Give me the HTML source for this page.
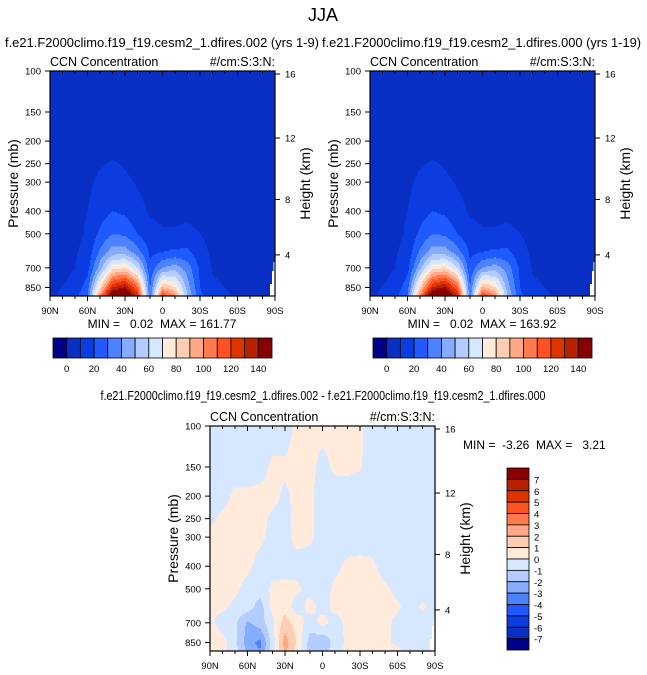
<!DOCTYPE html>
<html><head><meta charset="utf-8">
<style>
body{margin:0;background:#fff;}
svg{display:block;font-family:"Liberation Sans",Arial,sans-serif;}
.pre{white-space:pre;}
</style></head>
<body>
<svg id="chart" width="647" height="675" viewBox="0 0 647 675" xmlns="http://www.w3.org/2000/svg">
<text x="323" y="21" font-size="18" text-anchor="middle">JJA</text>
<text x="5" y="47" font-size="12.5" textLength="314" lengthAdjust="spacingAndGlyphs">f.e21.F2000climo.f19_f19.cesm2_1.dfires.002 (yrs 1-9)</text>
<text x="322" y="47" font-size="12.5" textLength="319" lengthAdjust="spacingAndGlyphs">f.e21.F2000climo.f19_f19.cesm2_1.dfires.000 (yrs 1-19)</text>
<text x="323" y="400" font-size="12.5" text-anchor="middle" textLength="445" lengthAdjust="spacingAndGlyphs">f.e21.F2000climo.f19_f19.cesm2_1.dfires.002 - f.e21.F2000climo.f19_f19.cesm2_1.dfires.000</text>
</svg>
<script>
// ---- data ----
const lats = [90,80,70,60,50,40,30,20,10,0,-10,-20,-30,-40,-50,-60,-70,-80,-90];
const levels = [100,150,200,250,300,400,500,600,700,850,925];
const ccnA = [
 [5,5,5,5,5,5,5,5,5,5,5,5,5,5,5,5,5,5,5],
 [5,5,5,5,5,5,5,5,5,5,5,5,5,5,5,5,5,5,5],
 [6,6,6,6,6,6,6,6,6,6,6,6,6,6,6,6,6,6,6],
 [6,6,6,7,9,11,9,7,6,6,6,6,6,6,6,6,6,6,6],
 [6,6,7,8,12,14,12,9,7,6,6,6,6,6,6,6,6,6,6],
 [6,7,8,10,15,20,18,13,9,8,8,8,7,6,6,6,6,6,6],
 [6,7,8,11,22,30,28,20,13,11,11,12,10,7,6,6,6,6,6],
 [7,8,9,13,32,45,45,35,18,20,22,22,14,8,7,6,6,6,6],
 [7,8,10,16,45,75,80,60,22,40,45,35,18,9,7,6,6,6,6],
 [8,10,13,25,80,130,140,110,28,90,80,45,20,12,10,8,6,6,6],
 [8,12,16,30,100,160,160,130,30,120,100,50,22,14,11,9,7,6,6]];
const ccnB = [
 [5,5,5,5,5,5,5,5,5,5,5,5,5,5,5,5,5,5,5],
 [5,5,5,5,5,5,5,5,5,5,5,5,5,5,5,5,5,5,5],
 [6,6,6,6,6,6,6,6,6,6,6,6,6,6,6,6,6,6,6],
 [6,6,6,7,9,11,9,7,6,6,6,6,6,6,6,6,6,6,6],
 [6,6,7,8,12,14,12,9,7,6,6,6,6,6,6,6,6,6,6],
 [6,7,8,10,15,20,18,13,9,8,8,8,7,6,6,6,6,6,6],
 [6,7,8,11,22,30,28,20,13,11,11,12,10,7,6,6,6,6,6],
 [7,8,9,13,32,45,45,35,18,20,22,22,14,8,7,6,6,6,6],
 [7,8,10,16,46,76,80,60,22,40,45,35,18,9,7,6,6,6,6],
 [8,10,13,26,82,131,141,111,29,91,81,45,20,12,10,8,6,6,6],
 [8,12,16,31,102,162,163,131,31,121,101,50,22,14,11,9,7,6,6]];
const ccnDiff = [
 [-.5,-.5,-.5,-.5,-.5,-.5,-.5,.3,.3,.3,.3,.3,.2,-.5,-.5,-.5,-.5,-.5,-.5],
 [-.5,-.5,-.5,-.5,-.4,.2,.2,.3,.3,-.3,.2,.2,.1,-.5,-.5,-.5,-.5,-.5,-.5],
 [-.5,-.3,.2,.2,.3,.3,-.2,.3,.2,-.5,-.5,-.5,-.5,-.5,-.5,-.5,-.5,-.5,-.5],
 [-.2,.2,.3,.3,.3,-.2,-.3,.3,.2,-.5,-.5,-.5,-.5,-.5,-.5,-.5,-.5,-.5,-.5],
 [.3,.3,.3,.3,.2,-.3,-.3,.3,.2,-.5,-.5,-.5,-.5,-.5,-.5,-.5,-.5,-.5,-.5],
 [.3,.3,.3,.2,-.3,-.4,-.4,-.4,-.5,-.4,-.2,.2,.3,.2,-.4,-.5,-.5,-.5,-.5],
 [.3,.3,.2,-.3,-.5,.2,.3,.2,-.4,-.4,.2,.3,.3,.3,.2,-.3,-.5,-.5,-.5],
 [.3,.2,-.2,-.5,-1.5,.3,.5,-.5,.4,-.4,.3,.3,.3,.3,.3,.2,-.5,.2,-.5],
 [.2,-.5,-.8,-2.2,-1.5,-.2,1.5,.5,-.5,.4,-.5,.3,.3,.3,.3,-.3,-.5,-.5,-.5],
 [.8,.4,-.7,-2.5,-3.3,-.5,2.5,.8,-1.5,-2,-.5,.2,.3,.3,.3,-.3,-.4,-.5,-.5],
 [.5,.3,-.6,-2.2,-3,-.5,2.2,.6,-1.5,-1.5,-.4,.3,.3,.3,.3,.3,-.3,-.5,-.5]];
const xTickLabels = ["90N","60N","30N","0","30S","60S","90S"];
const xTickLats = [90,60,30,0,-30,-60,-90];
const pTicks = [100,150,200,250,300,400,500,700,850];
const hTicks = [16,12,8,4];
const hTickP = [103,194,356,616];
const cbLabelsA = ["0","20","40","60","80","100","120","140"];
const cbLabelsD = ["7","6","5","4","3","2","1","0","-1","-2","-3","-4","-5","-6","-7"];
const statsA = "MIN =   0.02  MAX = 161.77";
const statsB = "MIN =   0.02  MAX = 163.92";
const statsD = "MIN =  -3.26  MAX =   3.21";

const colors = ["#00008a","#0a2fc4","#0a3ce0","#1e5aff","#4a82ff","#86acff","#b4ccff","#d6e8ff","#ffeadc","#ffccb4","#ffa884","#ff7a4c","#ff5222","#e03400","#b82000","#880000"];
const NS="http://www.w3.org/2000/svg";
const svg=document.getElementById('chart');
function mk(tag,attrs,parent){const e=document.createElementNS(NS,tag);for(const k in attrs)e.setAttribute(k,attrs[k]);(parent||svg).appendChild(e);return e;}

function interp(grid,latv,p){
  let fi=(90-latv)/10; fi=Math.max(0,Math.min(18,fi));
  const lp=Math.log(p);let j=0;
  while(j<levels.length-2&&Math.log(levels[j+1])<lp)j++;
  let t=(lp-Math.log(levels[j]))/(Math.log(levels[j+1])-Math.log(levels[j]));t=Math.max(0,Math.min(1,t));
  const i0=Math.min(17,Math.floor(fi)),s=fi-i0;
  const a=grid[j][i0]*(1-s)+grid[j][i0+1]*s, b=grid[j+1][i0]*(1-s)+grid[j+1][i0+1]*s;
  return a*(1-t)+b*t;
}

function panel(name,X,Y,grid,binFn){
  const W=225,H=225;
  const xS=l=>X+(90-l)/180*W;
  const yS=p=>Y+Math.log(p/100)/Math.log(9.25)*H;
  const g=mk('g',{});
  
  
  const cg=mk('g',{},g);
  
  
  const dy=1.5;
  for(let y=Y;y<Y+H;y+=dy){
    const p=100*Math.exp((y+dy/2-Y)/H*Math.log(9.25));
    let start=X,cur=-1;
    for(let x=X;x<=X+W;x+=1){
      let c=-1;
      if(x<X+W){const l=90-(x+0.5-X)/W*180;c=binFn(interp(grid,l,p));}
      if(c!==cur){
        if(cur>=0){const r=mk('rect',{x:start,y:y,width:x-start+0.3,height:dy+0.3,fill:colors[cur]},cg);
          
          }
        cur=c;start=x;
      }
    }
  }
  const m=mk('path',{d:`M${X+W-5} ${Y+H} L${X+W-5} ${Y+H-12} L${X+W-3} ${Y+H-12} L${X+W-3} ${Y+H-25} L${X+W-1.5} ${Y+H-25} L${X+W-1.5} ${Y+H-34} L${X+W} ${Y+H-34} L${X+W} ${Y+H} Z`,fill:'#fff'},g);
  
  
  const fr=mk('rect',{x:X,y:Y,width:W,height:H,fill:'none',stroke:'#000','stroke-width':1.2},g);
  
  
  for(let l=90;l>=-90;l-=10){
    const x=xS(l),maj=l%30===0,len=maj?5:3;
    mk('line',{x1:x,y1:Y,x2:x,y2:Y+len,stroke:'#000','stroke-width':1},g);
    mk('line',{x1:x,y1:Y+H,x2:x,y2:Y+H+len,stroke:'#000','stroke-width':1},g);
  }
  xTickLabels.forEach((t,i)=>{const e=mk('text',{x:xS(xTickLats[i]),y:Y+H+18,'font-size':9.5,'text-anchor':'middle'},g);e.textContent=t;
    
    });
  pTicks.forEach(p=>{const y=yS(p);mk('line',{x1:X-5,y1:y,x2:X,y2:y,stroke:'#000'},g);
    const e=mk('text',{x:X-9,y:y+3.5,'font-size':9.5,'text-anchor':'end'},g);e.textContent=p;
    
    });
  hTicks.forEach((h,i)=>{const y=yS(hTickP[i]);mk('line',{x1:X+W,y1:y,x2:X+W+5,y2:y,stroke:'#000'},g);
    const e=mk('text',{x:X+W+10,y:y+3.5,'font-size':9.5},g);e.textContent=h;
    
    });
  let e=mk('text',{x:X-32,y:Y+H/2,'font-size':14,'text-anchor':'middle',transform:`rotate(-90 ${X-32} ${Y+H/2})`},g);e.textContent='Pressure (mb)';
  
  
  e=mk('text',{x:X+W+35,y:Y+H/2,'font-size':14,'text-anchor':'middle',transform:`rotate(-90 ${X+W+35} ${Y+H/2})`},g);e.textContent='Height (km)';
  
  
  e=mk('text',{x:X,y:Y-5,'font-size':12.5},g);e.textContent='CCN Concentration';
  
  
  e=mk('text',{x:X+W,y:Y-5,'font-size':12.5,'text-anchor':'end'},g);e.textContent='#/cm:S:3:N:';
  
  
}

const binA=v=>Math.max(0,Math.min(15,Math.floor(v/10)+1));
const binD=v=>Math.max(0,Math.min(15,Math.floor(v)+8));

function hbar(X,Y,stats){
  const g=mk('g',{});
  
  
  const bw=219/16;
  colors.forEach((c,i)=>{const r=mk('rect',{x:X+i*bw,y:Y,width:bw,height:20,fill:c,stroke:'#000','stroke-width':0.8},g);
    
    });
  cbLabelsA.forEach((t,i)=>{const e=mk('text',{x:X+(1+2*i)*bw,y:Y+34,'font-size':9.5,'text-anchor':'middle'},g);e.textContent=t;
    
    });
  const s=mk('text',{x:X+109,y:Y-10,'font-size':12,'text-anchor':'middle','class':'pre'},g);s.textContent=stats;
  
  
}

panel('panel-exp',50,71,ccnA,binA);
hbar(53,338,statsA);
panel('panel-ctrl',370,71,ccnB,binA);
hbar(373,338,statsB);
panel('panel-diff',210,426,ccnDiff,binD);
(function(){
  const g=mk('g',{});
  
  
  const X=507,Y=468,bh=182/16;
  for(let i=0;i<16;i++){const r=mk('rect',{x:X,y:Y+i*bh,width:22,height:bh,fill:colors[15-i],stroke:'#000','stroke-width':0.8},g);
    
    }
  cbLabelsD.forEach((t,i)=>{const e=mk('text',{x:X+27,y:Y+(i+1)*bh+4,'font-size':9.5},g);e.textContent=t;
    
    });
  const s=mk('text',{x:463,y:449,'font-size':12,'class':'pre'},g);s.textContent=statsD;
  
  
})();
</script>
</body></html>
